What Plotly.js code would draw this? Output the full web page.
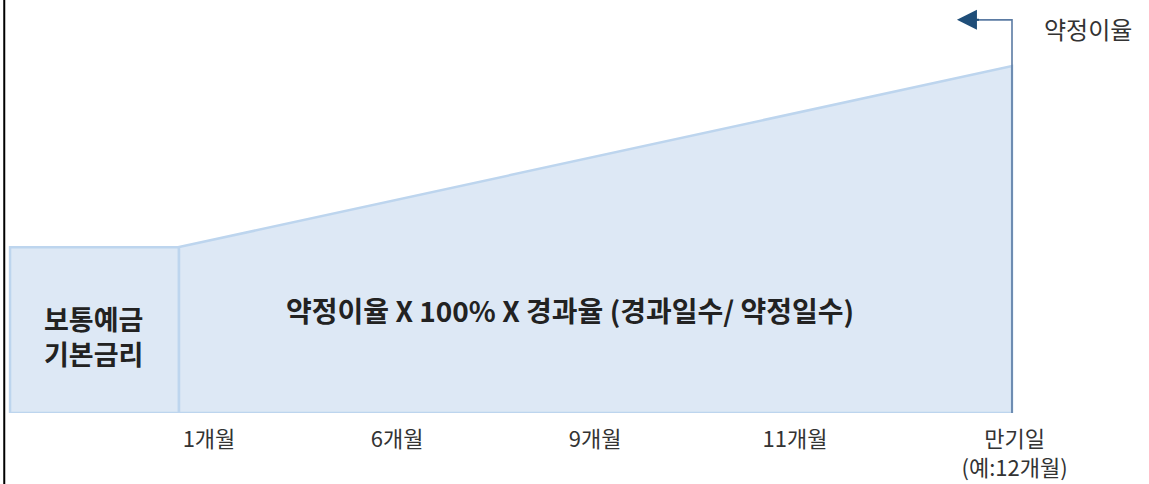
<!DOCTYPE html>
<html>
<head>
<meta charset="utf-8">
<script src="https://cdn.plot.ly/plotly-3.0.1.min.js"></script>
<style>html,body{margin:0;padding:0;background:#fff;}#chart{width:1149px;height:484px;}</style>
</head>
<body>
<div id="chart"></div>
<script>
// Categories (x positions in period units) and tick labels
const tickPositions = [1, 1.96, 2.97, 3.99, 5.11];
const tickLabels = ['1개월', '6개월', '9개월', '11개월', '만기일<br>(예:12개월)'];

// Base-rate block: start, 1-month boundary
const baseX = [-0.015, 0.847];
const baseRate = 47.8;          // % of contracted rate

// Accrual segment: from 1-month boundary to maturity
const accrualX = [0.847, 5.097];
const accrualY = [47.8, 100];   // rises to the contracted rate (100%)

// Arrow marker to "약정이율"
const arrowTopY = 113.3;
const arrowTipX = 4.816;

const fontKR = '"Noto Sans CJK KR", "Noto Sans", sans-serif';
const fill = '#dde8f5';
const edge = '#bdd5ee';

const traces = [
  {
    x: [baseX[0], baseX[1], baseX[1], baseX[0], baseX[0]],
    y: [0, 0, baseRate, baseRate, 0],
    mode: 'lines', fill: 'toself', fillcolor: fill,
    line: {color: edge, width: 2.5}, hoverinfo: 'skip', showlegend: false
  },
  {
    x: [accrualX[0], accrualX[1], accrualX[1], accrualX[0], accrualX[0]],
    y: [0, 0, accrualY[1], accrualY[0], 0],
    mode: 'lines', fill: 'toself', fillcolor: fill,
    line: {color: edge, width: 2.5}, hoverinfo: 'skip', showlegend: false
  },
  {
    x: [accrualX[1], accrualX[1], arrowTipX + 0.05],
    y: [0, arrowTopY, arrowTopY],
    mode: 'lines', line: {color: '#5b7ba3', width: 1.6},
    hoverinfo: 'skip', showlegend: false
  }
];

const layout = {
  width: 1149, height: 484,
  margin: {l: 0, r: 0, t: 0, b: 71},
  paper_bgcolor: '#ffffff', plot_bgcolor: '#ffffff',
  showlegend: false,
  xaxis: {
    range: [-0.0663, 5.796], showgrid: false, zeroline: false, showline: false,
    tickmode: 'array', tickvals: tickPositions, ticktext: tickLabels,
    ticks: '', ticklabelstandoff: 11,
    tickfont: {family: fontKR, size: 22, color: '#333333'}
  },
  yaxis: {
    range: [0, 119.02], showgrid: false, zeroline: false, showline: false,
    showticklabels: false, ticks: ''
  },
  shapes: [
    {type: 'line', xref: 'paper', yref: 'paper', x0: 0.0037, x1: 0.0037, y0: -0.2, y1: 1.01,
     line: {color: '#000000', width: 2}}
  ],
  annotations: [
    {x: arrowTipX, y: arrowTopY, ax: arrowTipX + 0.12, ay: arrowTopY, axref: 'x', ayref: 'y',
     xref: 'x', yref: 'y', text: '', showarrow: true, arrowhead: 2, arrowsize: 2,
     arrowwidth: 2, arrowcolor: '#1f4e79'},
    {x: 5.485, y: 110.9, xref: 'x', yref: 'y', text: '약정이율', showarrow: false,
     font: {family: fontKR, size: 24, color: '#333333'}},
    {x: 2.84, y: 29.7, xref: 'x', yref: 'y', text: '<b>약정이율 X 100% X 경과율 (경과일수/ 약정일수)</b>',
     showarrow: false, font: {family: fontKR, size: 28, color: '#222222'}},
    {x: 0.413, y: 22.2, xref: 'x', yref: 'y', text: '<b>보통예금<br>기본금리</b>',
     showarrow: false, font: {family: fontKR, size: 27, color: '#222222'}}
  ]
};

Plotly.newPlot('chart', traces, layout, {displayModeBar: false, staticPlot: true});
</script>
</body>
</html>
